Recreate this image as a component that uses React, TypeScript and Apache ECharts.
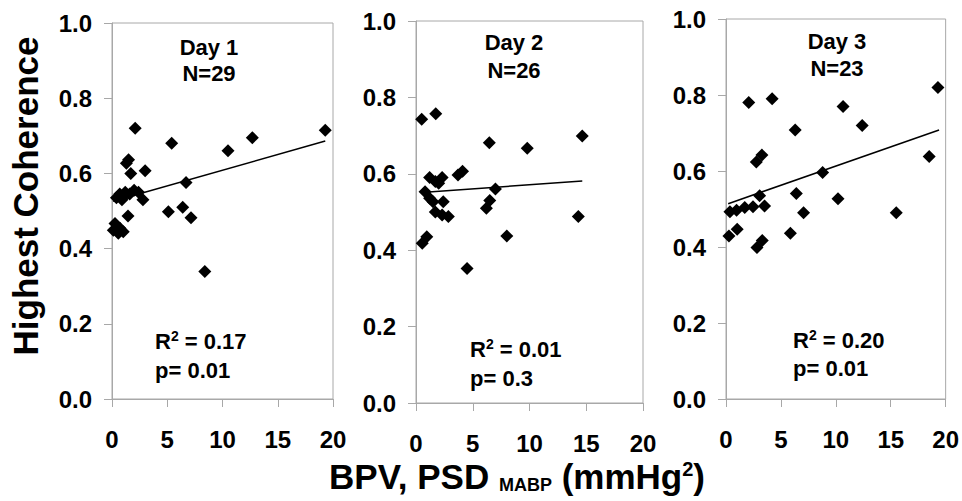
import React, { useEffect, useRef } from "react";
import * as echarts from "echarts";

// Day 1 points [BPV, coherence]
const day1: number[][] = [
  [2.1, 0.72], [5.4, 0.68], [10.5, 0.66], [12.7, 0.695], [19.3, 0.715],
  [1.5, 0.636], [1.3, 0.627], [1.7, 0.6], [3.0, 0.607], [6.7, 0.576],
  [0.4, 0.535], [0.7, 0.545], [0.9, 0.53], [1.1, 0.54], [1.2, 0.55],
  [1.6, 0.545], [2.0, 0.555], [2.4, 0.55], [2.8, 0.53],
  [5.1, 0.498], [6.4, 0.51], [7.15, 0.482], [8.4, 0.339], [1.45, 0.487],
  [0.27, 0.467], [0.12, 0.449], [0.72, 0.454], [1.02, 0.445], [0.57, 0.441],
];
const day2: number[][] = [
  [0.5, 0.743], [1.74, 0.757], [6.46, 0.681], [9.8, 0.667], [14.65, 0.699],
  [1.2, 0.59], [1.7, 0.58], [2.3, 0.59], [3.7, 0.597], [4.1, 0.607],
  [2.0, 0.575], [7.0, 0.56], [0.8, 0.553], [1.2, 0.536], [1.5, 0.527],
  [2.4, 0.527], [6.5, 0.53], [6.2, 0.51], [1.7, 0.5], [2.3, 0.492],
  [2.85, 0.488], [0.95, 0.435], [0.55, 0.418], [4.5, 0.352], [8.0, 0.437],
  [14.3, 0.488],
];
const day3: number[][] = [
  [2.07, 0.78], [4.2, 0.79], [6.3, 0.708], [10.66, 0.77], [12.4, 0.72],
  [19.3, 0.82], [18.5, 0.638], [2.76, 0.624], [3.27, 0.642], [8.8, 0.596],
  [3.06, 0.535], [6.4, 0.541], [10.2, 0.527], [0.36, 0.493], [0.96, 0.497],
  [1.71, 0.504], [2.46, 0.506], [3.51, 0.508], [0.27, 0.429], [1.02, 0.447],
  [2.82, 0.399], [3.3, 0.417], [5.86, 0.436], [7.06, 0.49], [15.5, 0.49],
];
// Regression line endpoints
const trend1: number[][] = [[0.1, 0.526], [19.3, 0.686]];
const trend2: number[][] = [[0.5, 0.551], [14.65, 0.581]];
const trend3: number[][] = [[0.2, 0.514], [19.4, 0.708]];

const dayLabels = ["Day 1", "Day 2", "Day 3"];
const nLabels = ["N=29", "N=26", "N=23"];
const r2Labels = ["0.17", "0.01", "0.20"];
const pLabels = ["0.01", "0.3", "0.01"];

const FONT = "'Liberation Sans', Arial, sans-serif";

export default function App() {
  const ref = useRef<HTMLDivElement>(null);
  useEffect(() => {
    if (!ref.current) return;
    const chart = echarts.init(ref.current, undefined, { renderer: "svg" });
    const grids = [
      { left: 112, top: 23, width: 221, height: 376 },
      { left: 416, top: 21, width: 227, height: 382 },
      { left: 726, top: 19, width: 222, height: 380 },
    ];
    const datasets = [day1, day2, day3];
    const trends = [trend1, trend2, trend3];
    const axisCommon = {
      axisLine: { show: true, lineStyle: { color: "#a8a8a8", width: 1 } },
      axisTick: { show: true, inside: false, length: 8, lineStyle: { color: "#a8a8a8" } },
      splitLine: { show: false },
    };
    const labelStyle = { color: "#000", fontFamily: FONT, fontWeight: "bold" as const, fontSize: 24 };
    const titlePos = [
      { x: 209, y1: 47, y2: 73 },
      { x: 514, y1: 42, y2: 70 },
      { x: 837, y1: 41, y2: 68 },
    ];
    const statPos = [
      { x: 155, y1: 341, y2: 370 },
      { x: 470, y1: 349, y2: 378 },
      { x: 793, y1: 340, y2: 368 },
    ];
    const graphics: any[] = [];
    titlePos.forEach((t, i) => {
      graphics.push({
        type: "text", x: t.x, y: t.y1,
        style: { text: dayLabels[i], fill: "#000", font: `bold 22px ${FONT}`, align: "center", verticalAlign: "middle" },
      });
      graphics.push({
        type: "text", x: t.x, y: t.y2,
        style: { text: nLabels[i], fill: "#000", font: `bold 22px ${FONT}`, align: "center", verticalAlign: "middle" },
      });
    });
    statPos.forEach((s, i) => {
      graphics.push({
        type: "text", x: s.x, y: s.y1,
        style: {
          text: `R{sup|2} = ${r2Labels[i]}`,
          fill: "#000", font: `bold 22px ${FONT}`, align: "left", verticalAlign: "middle",
          rich: { sup: { fontSize: 14, fontWeight: "bold", fontFamily: FONT, verticalAlign: "top", padding: [0, 0, 10, 0] } },
        },
      });
      graphics.push({
        type: "text", x: s.x, y: s.y2,
        style: { text: `p= ${pLabels[i]}`, fill: "#000", font: `bold 22px ${FONT}`, align: "left", verticalAlign: "middle" },
      });
    });
    graphics.push({
      type: "text", x: 25, y: 196, rotation: Math.PI / 2,
      style: { text: "Highest Coherence", fill: "#000", font: `bold 35px ${FONT}`, align: "center", verticalAlign: "middle" },
    });
    graphics.push({
      type: "text", x: 517, y: 476,
      style: {
        text: "BPV, PSD {sub|MABP} (mmHg{sup|2})",
        fill: "#000", font: `bold 35px ${FONT}`, align: "center", verticalAlign: "middle",
        rich: {
          sub: { fontSize: 18, fontWeight: "bold", fontFamily: FONT, padding: [18, 0, 0, 0] },
          sup: { fontSize: 20, fontWeight: "bold", fontFamily: FONT, padding: [0, 0, 14, 0] },
        },
      },
    });

    const option: any = {
      animation: false,
      grid: grids.map((g) => ({ ...g, show: true, borderColor: "#a8a8a8", borderWidth: 1, backgroundColor: "transparent" })),
      xAxis: grids.map((_, i) => ({
        type: "value", gridIndex: i, min: 0, max: 20, interval: 5,
        ...axisCommon,
        axisLabel: { ...labelStyle, margin: 28 },
      })),
      yAxis: grids.map((_, i) => ({
        type: "value", gridIndex: i, min: 0, max: 1, interval: 0.2,
        ...axisCommon,
        axisLabel: { ...labelStyle, margin: 20, formatter: (v: number) => v.toFixed(1) },
      })),
      series: [
        ...datasets.map((d, i) => ({
          type: "scatter", xAxisIndex: i, yAxisIndex: i, data: d,
          symbol: "diamond", symbolSize: 13, itemStyle: { color: "#000", opacity: 1 },
        })),
        ...trends.map((t, i) => ({
          type: "line", xAxisIndex: i, yAxisIndex: i, data: t,
          showSymbol: false, symbol: "none", lineStyle: { color: "#000", width: 1.5 },
        })),
      ],
      graphic: graphics,
    };
    chart.setOption(option);
    return () => chart.dispose();
  }, []);
  return (
    <div
      ref={ref}
      style={{ position: "fixed", left: 0, top: 0, width: 962, height: 501, background: "#fff" }}
    />
  );
}
